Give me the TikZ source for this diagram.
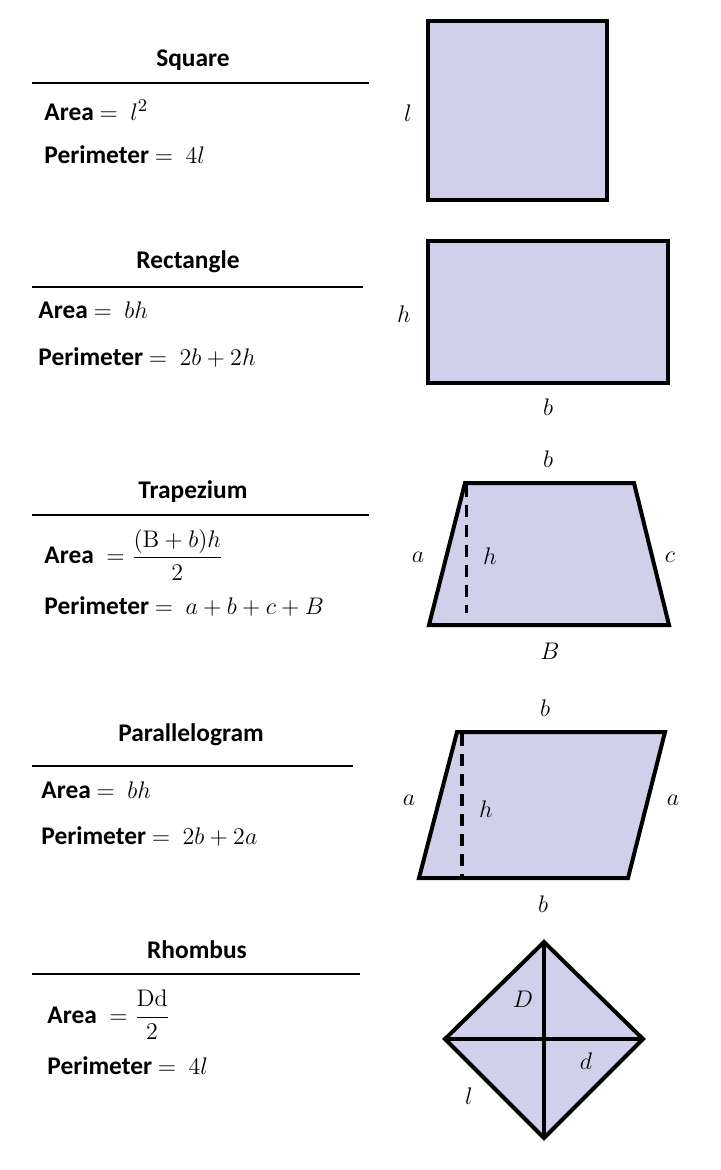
\documentclass[tikz,border=0pt]{standalone}
\usepackage{amsmath}
\usepackage[no-math]{fontspec}
\setmainfont{Carlito}
\usepackage{tikz}
\usetikzlibrary{calc}

\definecolor{figblue}{RGB}{208,208,234}

\tikzset{
  figfill/.style={fill=figblue, draw=black, line width=2pt, line join=miter},
  head/.style={font=\fontsize{12.7}{15}\selectfont\bfseries, inner sep=0pt},
  ruleline/.style={line width=1pt},
  formula/.style={anchor=west, inner sep=0pt},
  lbl/.style={inner sep=0pt},
  hdash/.style={line width=1.6pt, dash pattern=on 6pt off 4pt}
}

\begin{document}
\begin{tikzpicture}[x=0.5pt, y=-0.5pt, font=\fontsize{12.7}{15}\selectfont]
    \useasboundingbox (0,0) rectangle (720,1170);

    % --- square ---
    \begin{scope}
      \node[head] (sqT) at (193,60) {Square};
      \draw[ruleline] (32,83) -- (369,83);
      \node[formula] (sqA) at (44,110) {\textbf{Area} $=\ l^2$};
      \node[formula] (sqP) at (44,155) {\textbf{Perimeter} $=\ 4l$};

      \draw[figfill] (428,21) rectangle (607,200);
      \node[lbl] (sql) at (408,113) {$l$};
    \end{scope}

    % --- rectangle ---
    \begin{scope}
      \node[head] (reT) at (188,262) {Rectangle};
      \draw[ruleline] (32,287) -- (363,287);
      \node[formula] (reA) at (38,310) {\textbf{Area} $=\ bh$};
      \node[formula] (reP) at (38,358) {\textbf{Perimeter} $=\ 2b+2h$};

      \draw[figfill] (428,241) rectangle (668,383);
      \node[lbl] (reh) at (404,314) {$h$};
      \node[lbl] (reb) at (548,407) {$b$};
    \end{scope}

    % --- trapezium ---
    \begin{scope}
      \node[head] (trT) at (193,492) {Trapezium};
      \draw[ruleline] (32,515) -- (369,515);
      \node[formula] (trA) at (44,555) {\textbf{Area} $\;=\dfrac{(\mathrm{B}+b)h}{2}$};
      \node[formula] (trP) at (44,607) {\textbf{Perimeter} $=\ a+b+c+B$};

      \coordinate (A) at (465,483);
      \coordinate (B) at (634,483);
      \coordinate (C) at (669,625);
      \coordinate (D) at (429,625);
      \draw[figfill] (A)--(B)--(C)--(D)--cycle;
      \draw[hdash] (466.5,485) -- (466.5,613);  % height

      \node[lbl] (trb) at (548,459) {$b$};
      \node[lbl] (tra) at (418,557) {$a$};
      \node[lbl] (trh) at (490,556) {$h$};
      \node[lbl] (trc) at (670,557) {$c$};
      \node[lbl] (trB) at (550,651) {$B$};
    \end{scope}

    % --- parallelogram ---
    \begin{scope}
      \node[head] (paT) at (191,735) {Parallelogram};
      \draw[ruleline] (32,766) -- (353,766);
      \node[formula] (paA) at (41,790) {\textbf{Area} $=\ bh$};
      \node[formula] (paP) at (41,836) {\textbf{Perimeter} $=\ 2b+2a$};

      \coordinate (E) at (457,732);
      \coordinate (F) at (665,732);
      \coordinate (G) at (628,878);
      \coordinate (H) at (419,878);
      \draw[figfill] (E)--(F)--(G)--(H)--cycle;
      \draw[hdash] (462,734) -- (462,878);  % height

      \node[lbl] (pab) at (545,708) {$b$};
      \node[lbl] (paa) at (409,800) {$a$};
      \node[lbl] (pah) at (486,809) {$h$};
      \node[lbl] (paa2) at (673,800) {$a$};
      \node[lbl] (pab2) at (543,904) {$b$};
    \end{scope}

    % --- rhombus ---
    \begin{scope}
      \node[head] (rhT) at (197,950) {Rhombus};
      \draw[ruleline] (32,974) -- (360,974);
      \node[formula] (rhA) at (47,1015) {\textbf{Area} $\;=\dfrac{\mathrm{Dd}}{2}$};
      \node[formula] (rhP) at (47,1066) {\textbf{Perimeter} $=\ 4l$};

      \coordinate (P) at (544,942);
      \coordinate (Q) at (643,1039);
      \coordinate (R) at (544,1138);
      \coordinate (S) at (445,1039);
      \draw[figfill] (P)--(Q)--(R)--(S)--cycle;
      \draw[line width=2pt] (P)--(R);   % long diagonal
      \draw[line width=2pt] (S)--(Q);   % short diagonal

      \node[lbl] (rhD) at (523,999) {$D$};
      \node[lbl] (rhd) at (586,1061) {$d$};
      \node[lbl] (rhl) at (469,1096) {$l$};
    \end{scope}
\end{tikzpicture}
\end{document}
